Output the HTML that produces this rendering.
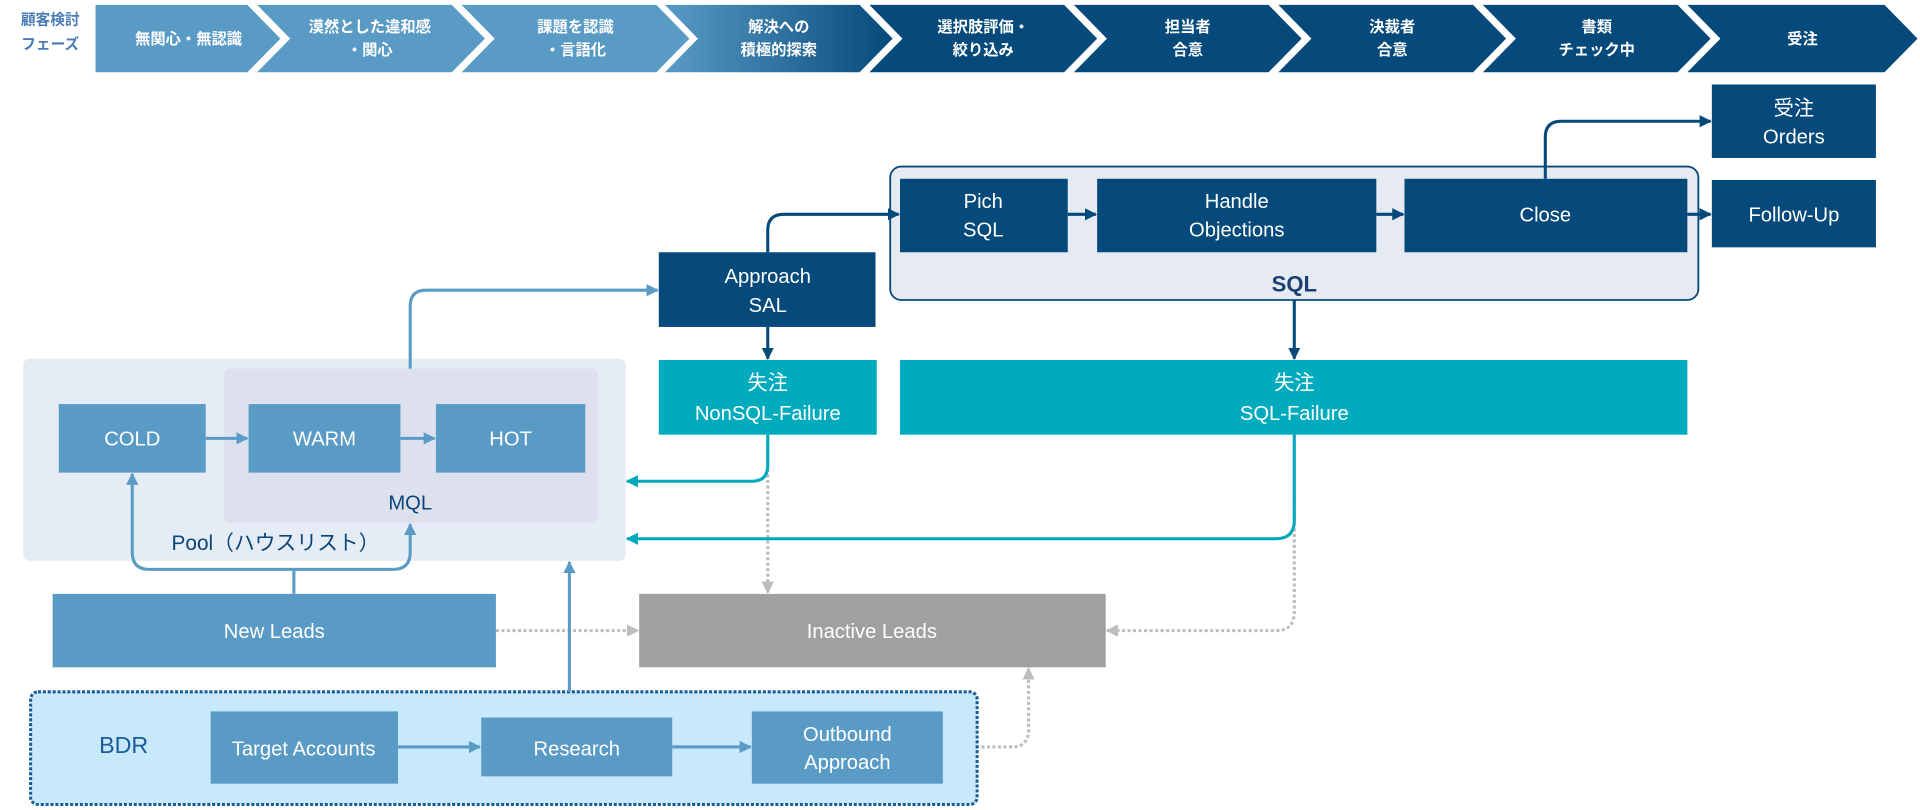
<!DOCTYPE html>
<html><head><meta charset="utf-8"><style>
html,body{margin:0;padding:0;background:#fff;width:1920px;height:810px;overflow:hidden}
svg{display:block}
text{font-family:"Liberation Sans","Noto Sans CJK JP",sans-serif}
.w{fill:#fff;font-size:16.5px;text-anchor:middle}
.h{fill:#fff;font-size:12.5px;font-weight:bold;text-anchor:middle}
</style></head><body>
<svg width="1920" height="810" viewBox="0 0 1568 661.5" xmlns="http://www.w3.org/2000/svg">
<defs>
<linearGradient id="g" x1="0" x2="1" y1="0" y2="0"><stop offset="0" stop-color="#5a9bc6"/><stop offset="1" stop-color="#064a7b"/></linearGradient>
<marker id="an" viewBox="0 0 10 10" refX="9" refY="5" markerWidth="4" markerHeight="4" orient="auto"><path d="M0,0L10,5L0,10z" fill="#054a7a"/></marker>
<marker id="al" viewBox="0 0 10 10" refX="9" refY="5" markerWidth="4" markerHeight="4" orient="auto"><path d="M0,0L10,5L0,10z" fill="#5a9bc6"/></marker>
<marker id="at" viewBox="0 0 10 10" refX="9" refY="5" markerWidth="4" markerHeight="4" orient="auto"><path d="M0,0L10,5L0,10z" fill="#00a8bb"/></marker>
<marker id="ag" viewBox="0 0 10 10" refX="9" refY="5" markerWidth="4" markerHeight="4" orient="auto"><path d="M0,0L10,5L0,10z" fill="#bdbdbd"/></marker>
</defs>
<text x="41" y="20" font-size="12" font-weight="bold" fill="#4a7bb5" text-anchor="middle">顧客検討</text>
<text x="41" y="40" font-size="12" font-weight="bold" fill="#4a7bb5" text-anchor="middle">フェーズ</text>
<path d="M78,4L202,4L229,31.5L202,59L78,59z" fill="#5a9bc6"/>
<path d="M210,4L369,4L396,31.5L369,59L210,59L237,31.5z" fill="#5a9bc6"/>
<path d="M377,4L536,4L563,31.5L536,59L377,59L404,31.5z" fill="#5a9bc6"/>
<path d="M543,4L702,4L729,31.5L702,59L543,59L570,31.5z" fill="url(#g)"/>
<path d="M710,4L869,4L896,31.5L869,59L710,59L737,31.5z" fill="#054a7a"/>
<path d="M877,4L1036,4L1063,31.5L1036,59L877,59L904,31.5z" fill="#054a7a"/>
<path d="M1044,4L1203,4L1230,31.5L1203,59L1044,59L1071,31.5z" fill="#054a7a"/>
<path d="M1211,4L1370,4L1397,31.5L1370,59L1211,59L1238,31.5z" fill="#054a7a"/>
<path d="M1378,4L1539,4L1566,31.5L1539,59L1378,59L1405,31.5z" fill="#054a7a"/>
<text class="h" x="154" y="36">無関心・無認識</text>
<text class="h" x="302" y="26">漠然とした違和感</text><text class="h" x="302" y="45">・関心</text>
<text class="h" x="470" y="26">課題を認識</text><text class="h" x="470" y="45">・言語化</text>
<text class="h" x="636" y="26">解決への</text><text class="h" x="636" y="45">積極的探索</text>
<text class="h" x="803" y="26">選択肢評価・</text><text class="h" x="803" y="45">絞り込み</text>
<text class="h" x="970" y="26">担当者</text><text class="h" x="970" y="45">合意</text>
<text class="h" x="1137" y="26">決裁者</text><text class="h" x="1137" y="45">合意</text>
<text class="h" x="1304" y="26">書類</text><text class="h" x="1304" y="45">チェック中</text>
<text class="h" x="1472" y="36">受注</text>

<rect x="19" y="293" width="492" height="165" rx="5" fill="#e6ecf5"/>
<rect x="183" y="301" width="305" height="126" rx="5" fill="#dde1ee"/>
<text x="335" y="416" font-size="16.5" fill="#0a4478" text-anchor="middle">MQL</text>
<text x="225" y="449" font-size="17" fill="#0a4478" text-anchor="middle">Pool（ハウスリスト）</text>
<rect x="48" y="330" width="120" height="56" fill="#5a9bc6"/><text class="w" x="108" y="364">COLD</text>
<rect x="203" y="330" width="124" height="56" fill="#5a9bc6"/><text class="w" x="265" y="364">WARM</text>
<rect x="356" y="330" width="122" height="56" fill="#5a9bc6"/><text class="w" x="417" y="364">HOT</text>
<line x1="168" y1="358" x2="202" y2="358" stroke="#5a9bc6" stroke-width="2.5" marker-end="url(#al)"/>
<line x1="327" y1="358" x2="355" y2="358" stroke="#5a9bc6" stroke-width="2.5" marker-end="url(#al)"/>
<path d="M335,301V250Q335,237 348,237H537" fill="none" stroke="#5a9bc6" stroke-width="2.5" marker-end="url(#al)"/>

<rect x="727" y="136" width="660" height="109" rx="9" fill="#e6eaf2" stroke="#0a4a7a" stroke-width="1.5"/>
<text x="1057" y="238" font-size="18" font-weight="bold" fill="#1a3f70" text-anchor="middle">SQL</text>
<rect x="735" y="146" width="137" height="60" fill="#054a7a"/><text class="w" x="803" y="170">Pich</text><text class="w" x="803" y="193">SQL</text>
<rect x="896" y="146" width="228" height="60" fill="#054a7a"/><text class="w" x="1010" y="170">Handle</text><text class="w" x="1010" y="193">Objections</text>
<rect x="1147" y="146" width="231" height="60" fill="#054a7a"/><text class="w" x="1262" y="181">Close</text>
<rect x="1398" y="69" width="134" height="60" fill="#054a7a"/><text class="w" x="1465" y="94">受注</text><text class="w" x="1465" y="117">Orders</text>
<rect x="1398" y="147" width="134" height="55" fill="#054a7a"/><text class="w" x="1465" y="181">Follow-Up</text>
<line x1="872" y1="175" x2="895" y2="175" stroke="#054a7a" stroke-width="2.5" marker-end="url(#an)"/>
<line x1="1124" y1="175" x2="1146" y2="175" stroke="#054a7a" stroke-width="2.5" marker-end="url(#an)"/>
<line x1="1378" y1="175" x2="1397" y2="175" stroke="#054a7a" stroke-width="2.5" marker-end="url(#an)"/>
<path d="M1262,146V112Q1262,99 1275,99H1397" fill="none" stroke="#054a7a" stroke-width="2.5" marker-end="url(#an)"/>
<rect x="538" y="206" width="177" height="61" fill="#054a7a"/><text class="w" x="627" y="231">Approach</text><text class="w" x="627" y="255">SAL</text>
<path d="M627,206V188Q627,175 640,175H734" fill="none" stroke="#054a7a" stroke-width="2.5" marker-end="url(#an)"/>
<line x1="627" y1="267" x2="627" y2="293" stroke="#054a7a" stroke-width="2.5" marker-end="url(#an)"/>
<line x1="1057" y1="245" x2="1057" y2="293" stroke="#054a7a" stroke-width="2.5" marker-end="url(#an)"/>
<rect x="538" y="294" width="178" height="61" fill="#00abbd"/><text class="w" x="627" y="318">失注</text><text class="w" x="627" y="343">NonSQL-Failure</text>
<rect x="735" y="294" width="643" height="61" fill="#00abbd"/><text class="w" x="1057" y="318">失注</text><text class="w" x="1057" y="343">SQL-Failure</text>

<line x1="627" y1="365" x2="627" y2="484" stroke="#bdbdbd" stroke-width="2.5" stroke-dasharray="2.5,2" marker-end="url(#ag)"/>
<path d="M1057,355V500Q1057,515 1042,515H904" fill="none" stroke="#bdbdbd" stroke-width="2.5" stroke-dasharray="2.5,2" marker-end="url(#ag)"/>
<line x1="405" y1="515" x2="521" y2="515" stroke="#bdbdbd" stroke-width="2.5" stroke-dasharray="2.5,2" marker-end="url(#ag)"/>
<path d="M770,610H826Q840,610 840,596V546" fill="none" stroke="#bdbdbd" stroke-width="2.5" stroke-dasharray="2.5,2" marker-end="url(#ag)"/>
<path d="M627,355V380Q627,393 614,393H512" fill="none" stroke="#00a8bb" stroke-width="2.5" marker-end="url(#at)"/>
<path d="M1057,355V425Q1057,440 1042,440H512" fill="none" stroke="#00a8bb" stroke-width="2.5" marker-end="url(#at)"/>

<rect x="43" y="485" width="362" height="60" fill="#5a9bc6"/><text class="w" x="224" y="521">New Leads</text>
<rect x="522" y="485" width="381" height="60" fill="#a0a0a0"/><text class="w" x="712" y="521">Inactive Leads</text>
<path d="M240,465H122Q108,465 108,451V387" fill="none" stroke="#5a9bc6" stroke-width="2.5" marker-end="url(#al)"/>
<path d="M240,465H321Q335,465 335,451V428" fill="none" stroke="#5a9bc6" stroke-width="2.5" marker-end="url(#al)"/>
<line x1="240" y1="485" x2="240" y2="465" stroke="#5a9bc6" stroke-width="2.5"/>

<rect x="25" y="565" width="773" height="92" rx="6" fill="#c8e8fb" stroke="#1a5d96" stroke-width="2.5" stroke-dasharray="2.5,1.5"/>
<text x="101" y="615" font-size="19" fill="#1a5d96" text-anchor="middle">BDR</text>
<line x1="465" y1="565" x2="465" y2="459" stroke="#5a9bc6" stroke-width="2.5" marker-end="url(#al)"/>
<rect x="172" y="581" width="153" height="59" fill="#5a9bc6"/><text class="w" x="248" y="617">Target Accounts</text>
<rect x="393" y="586" width="156" height="48" fill="#5a9bc6"/><text class="w" x="471" y="617">Research</text>
<rect x="614" y="581" width="156" height="59" fill="#5a9bc6"/><text class="w" x="692" y="605">Outbound</text><text class="w" x="692" y="628">Approach</text>
<line x1="325" y1="610" x2="392" y2="610" stroke="#5a9bc6" stroke-width="2.5" marker-end="url(#al)"/>
<line x1="549" y1="610" x2="613" y2="610" stroke="#5a9bc6" stroke-width="2.5" marker-end="url(#al)"/>
</svg>
</body></html>
